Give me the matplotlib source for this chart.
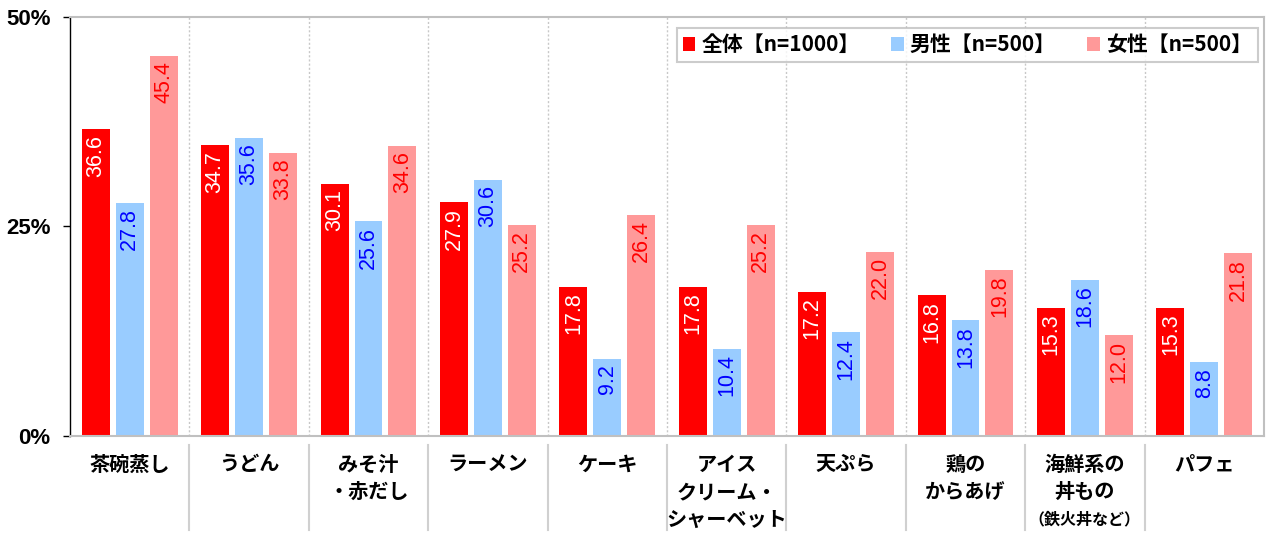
import matplotlib
matplotlib.use("Agg")
import matplotlib.pyplot as plt
from matplotlib.lines import Line2D
from matplotlib.patches import Patch
import numpy as np

plt.rcParams['font.family'] = ['Noto Sans CJK JP', 'DejaVu Sans']

categories = ["茶碗蒸し", "うどん", "みそ汁\n・赤だし", "ラーメン", "ケーキ",
              "アイス\nクリーム・\nシャーベット", "天ぷら", "鶏の\nからあげ",
              "海鮮系の\n丼もの\n（鉄火丼など）", "パフェ"]
total = [36.6, 34.7, 30.1, 27.9, 17.8, 17.8, 17.2, 16.8, 15.3, 15.3]
male = [27.8, 35.6, 25.6, 30.6, 9.2, 10.4, 12.4, 13.8, 18.6, 8.8]
female = [45.4, 33.8, 34.6, 25.2, 26.4, 25.2, 22.0, 19.8, 12.0, 21.8]
series_names = ["全体【n=1000】", "男性【n=500】", "女性【n=500】"]
yticks = [0, 25, 50]
ytick_labels = ["0%", "25%", "50%"]

bar_colors = ["#FF0000", "#99CCFF", "#FF9999"]
text_colors = ["#FFFFFF", "#0000FF", "#FF0000"]

fig = plt.figure(figsize=(12.66, 5.34), dpi=100)
ax = fig.add_axes([70/1266, 1-436/534, (1264-70)/1266, (436-17)/534])

x = np.arange(len(categories))
width = 0.234
offset = 0.284
for i, (vals, bc, tc) in enumerate(zip([total, male, female], bar_colors, text_colors)):
    xs = x + (i - 1) * offset
    ax.bar(xs, vals, width=width, color=bc, zorder=2)
    for xi, v in zip(xs, vals):
        ax.annotate(f"{v:.1f}", (xi, v), xytext=(0, -4), textcoords='offset points',
                    rotation=90, ha='center', va='top', color=tc,
                    fontsize=15.5, family=['Liberation Sans', 'DejaVu Sans'], zorder=3)

ax.set_xlim(-0.5, len(categories) - 0.5)
ax.set_ylim(0, 50)
ax.set_yticks(yticks)
ax.set_yticklabels(ytick_labels)
for lab in ax.get_yticklabels():
    lab.set_fontsize(16)
    lab.set_fontweight('bold')
    lab.set_family(['Liberation Sans', 'DejaVu Sans'])
ax.tick_params(axis='y', direction='out', length=5, width=1, color='black', pad=9)
ax.set_xticks([])

for s in ['top', 'right', 'bottom']:
    ax.spines[s].set_color('#C0C0C0')
    ax.spines[s].set_linewidth(1.5)
ax.spines['left'].set_color('black')
ax.spines['left'].set_linewidth(1)

# separators
for b in np.arange(0.5, len(categories) - 0.5, 1):
    ax.axvline(b, color='#C8C8C8', linestyle=(0, (1.5, 1.5)), linewidth=1, zorder=1)
    ax.add_line(Line2D([b, b], [-9/419, -94/419], transform=ax.get_xaxis_transform(),
                       color='#D0D0D0', linewidth=1.5, clip_on=False))

# category labels
for xi, c in zip(x, categories):
    lines = c.split("\n")
    for j, ln in enumerate(lines):
        fs = 14.5
        if ln.startswith("（"):
            fs = 11.5
        ypix = 28 + j * 27.5
        ax.text(xi, -ypix / 419, ln, transform=ax.get_xaxis_transform(),
                ha='center', va='center', fontsize=fs, fontweight='bold')

handles = [Patch(facecolor=c, edgecolor='none') for c in bar_colors]
leg = ax.legend(handles, series_names, loc='upper right',
                bbox_to_anchor=(1 - 6/1194, 1 - 11/419), borderaxespad=0,
                ncol=3, frameon=True, fancybox=False, edgecolor='#C0C0C0',
                prop={'weight': 'bold', 'size': 15}, handlelength=0.6, handleheight=0.6,
                handletextpad=0.3, columnspacing=1.5, borderpad=0.3)
leg.get_frame().set_linewidth(1.5)

fig.savefig("out.png", dpi=100)
